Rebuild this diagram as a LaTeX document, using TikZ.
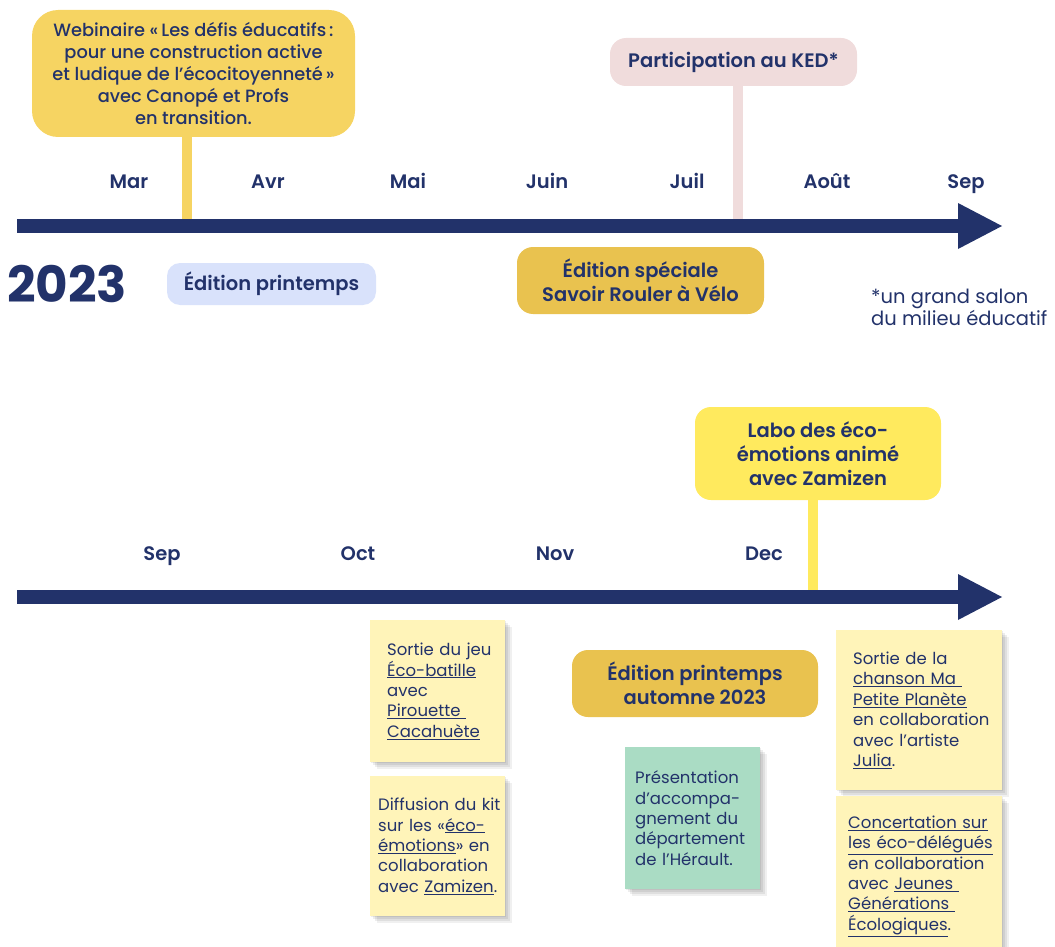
\documentclass[tikz,border=0pt]{standalone}
\usepackage{fontspec}
\IfFontExistsTF{Poppins SemiBold}{\setmainfont{Poppins}[BoldFont={Poppins SemiBold}]}{\setmainfont{Poppins}}
\IfFontExistsTF{Poppins Medium}{\newfontfamily\medfont{Poppins Medium}}{\newfontfamily\medfont{Poppins}}
\IfFontExistsTF{Poppins Bold}{\newfontfamily\heavyfont{Poppins Bold}}{\newfontfamily\heavyfont{Poppins}[FakeBold=2]}
\usetikzlibrary{shadows}
\definecolor{navy}{HTML}{22326A}
\definecolor{webgold}{HTML}{F6D462}
\definecolor{kedpink}{HTML}{F0DCDC}
\definecolor{lightblue}{HTML}{D9E2FB}
\definecolor{gold}{HTML}{E9C24F}
\definecolor{brightyellow}{HTML}{FFEA5E}
\definecolor{sticky}{HTML}{FFF4B9}
\definecolor{mint}{HTML}{AADCC4}
\newcommand{\nline}[1]{\mbox{#1}}
\tikzset{
  month/.style={text=navy, font=\bfseries\fontsize{19.5}{22}\selectfont, inner sep=0, anchor=base},
  evbox/.style={rounded corners=#1, align=center, text=navy, inner sep=0,
     font=\bfseries\fontsize{19.5}{24}\selectfont},
  evbox/.default=16,
  stem/.style={line width=10},
  axis/.style={line width=14, navy},
  softshadow/.style={
     drop shadow={shadow xshift=1pt, shadow yshift=-1pt, opacity=.07, fill=black},
     drop shadow={shadow xshift=3pt, shadow yshift=-3pt, opacity=.07, fill=black},
     drop shadow={shadow xshift=5pt, shadow yshift=-5pt, opacity=.07, fill=black},
     drop shadow={shadow xshift=7pt, shadow yshift=-7pt, opacity=.06, fill=black}},
  note/.style={anchor=north west, align=left, text=navy, inner ysep=0,
     font=\fontsize{16.5}{20.4}\selectfont, softshadow},
}
\begin{document}
\begin{tikzpicture}[x=1pt,y=-1pt]
\useasboundingbox (0,0) rectangle (1055,947);
% ---------- top timeline ----------
\coordinate (a1s) at (17,226);
\coordinate (a1e) at (1002,226);
\coordinate (webpin) at (187,226);
\coordinate (kedpin) at (738,226);
\node[evbox=26, fill=webgold, minimum width=323, minimum height=127,
      font=\medfont\fontsize{17.8}{22}\selectfont] (web) at (193.5,73.5)
  {Webinaire «\,Les défis éducatifs\,:\\pour une construction active\\et ludique de l’écocitoyenneté\,»\\avec Canopé et Profs\\en transition.};
\node[evbox, fill=kedpink, minimum width=247, minimum height=48] (ked) at (733.5,62) {Participation au KED*};
\draw[stem, webgold] (web.south -| webpin) -- (webpin);
\draw[stem, kedpink] (ked.south -| kedpin) -- (kedpin);
\draw[axis] (a1s) -- ([xshift=-42]a1e);
\fill[navy] ([xshift=-44,yshift=23]a1e) -- (a1e) -- ([xshift=-44,yshift=-23]a1e) -- cycle;
\node[month] (mar) at (129,189) {Mar};
\node[month] (avr) at (268,189) {Avr};
\node[month] (mai) at (408,189) {Mai};
\node[month] (juin) at (547,189) {Juin};
\node[month] (juil) at (687,189) {Juil};
\node[month] (aout) at (827,189) {Août};
\node[month] (sep1) at (966,189) {Sep};
\node[text=navy, font=\heavyfont\fontsize{50}{50}\selectfont, inner sep=0] (year) at (67,284) {2023};
\node[evbox=13, fill=lightblue, minimum width=209, minimum height=42] (printemps) at (271.5,284) {Édition printemps};
\node[evbox, fill=gold, minimum width=247, minimum height=67] (speciale) at (640.5,280.5) {Édition spéciale\\Savoir Rouler à Vélo};
\node[anchor=west, align=left, text=navy, inner sep=0, font=\fontsize{19.5}{22}\selectfont] (foot) at (871,307) {*un grand salon\\du milieu éducatif};
% ---------- bottom timeline ----------
\coordinate (a2s) at (17,597);
\coordinate (a2e) at (1002,597);
\coordinate (labopin) at (813,597);
\node[evbox, fill=brightyellow, minimum width=246, minimum height=93] (labo) at (818,453.5) {Labo des éco-\\émotions animé\\avec Zamizen};
\draw[stem, brightyellow] (labo.south -| labopin) -- (labopin);
\draw[axis] (a2s) -- ([xshift=-42]a2e);
\fill[navy] ([xshift=-44,yshift=23]a2e) -- (a2e) -- ([xshift=-44,yshift=-23]a2e) -- cycle;
\node[month] (sep2) at (162,560) {Sep};
\node[month] (oct) at (358,560) {Oct};
\node[month] (nov) at (555,560) {Nov};
\node[month] (dec) at (764,560) {Dec};
\node[evbox, fill=gold, minimum width=246, minimum height=67] (automne) at (695,683.5) {Édition printemps\\automne 2023};
\node[note, fill=sticky, inner xsep=17, text width=101, minimum height=142] (n1) at (370,620)
  {\nline{Sortie du jeu}\\\nline{\underline{Éco-batille}}\\\nline{avec}\\\nline{\underline{Pirouette\ }}\\\nline{\underline{Cacahuète}}};
\node[note, fill=sticky, inner xsep=8, text width=119, minimum height=140] (n2) at (370,776)
  {\nline{Diffusion du kit}\\\nline{sur les «\underline{éco-}}\\\nline{\underline{émotions}» en}\\\nline{collaboration}\\\nline{avec \underline{Zamizen}.}};
\node[note, fill=mint, inner xsep=10, text width=115, minimum height=142] (n3) at (625,747)
  {\nline{Présentation}\\\nline{d’accompa-}\\\nline{gnement du}\\\nline{département}\\\nline{de l’Hérault.}};
\node[note, fill=sticky, inner xsep=17, text width=132, minimum height=160] (n4) at (836,630)
  {\nline{Sortie de la}\\\nline{\underline{chanson Ma\ }}\\\nline{\underline{Petite Planète}}\\\nline{en collaboration}\\\nline{avec l’artiste}\\\nline{\underline{Julia}.}};
\node[note, fill=sticky, inner xsep=12, text width=142, minimum height=160] (n5) at (836,796)
  {\nline{\underline{Concertation sur}}\\\nline{\underline{les éco-délégués}}\\\nline{en collaboration}\\\nline{avec \underline{Jeunes\ }}\\\nline{\underline{Générations\ }}\\\nline{\underline{Écologiques}.}};
\end{tikzpicture}
\end{document}
